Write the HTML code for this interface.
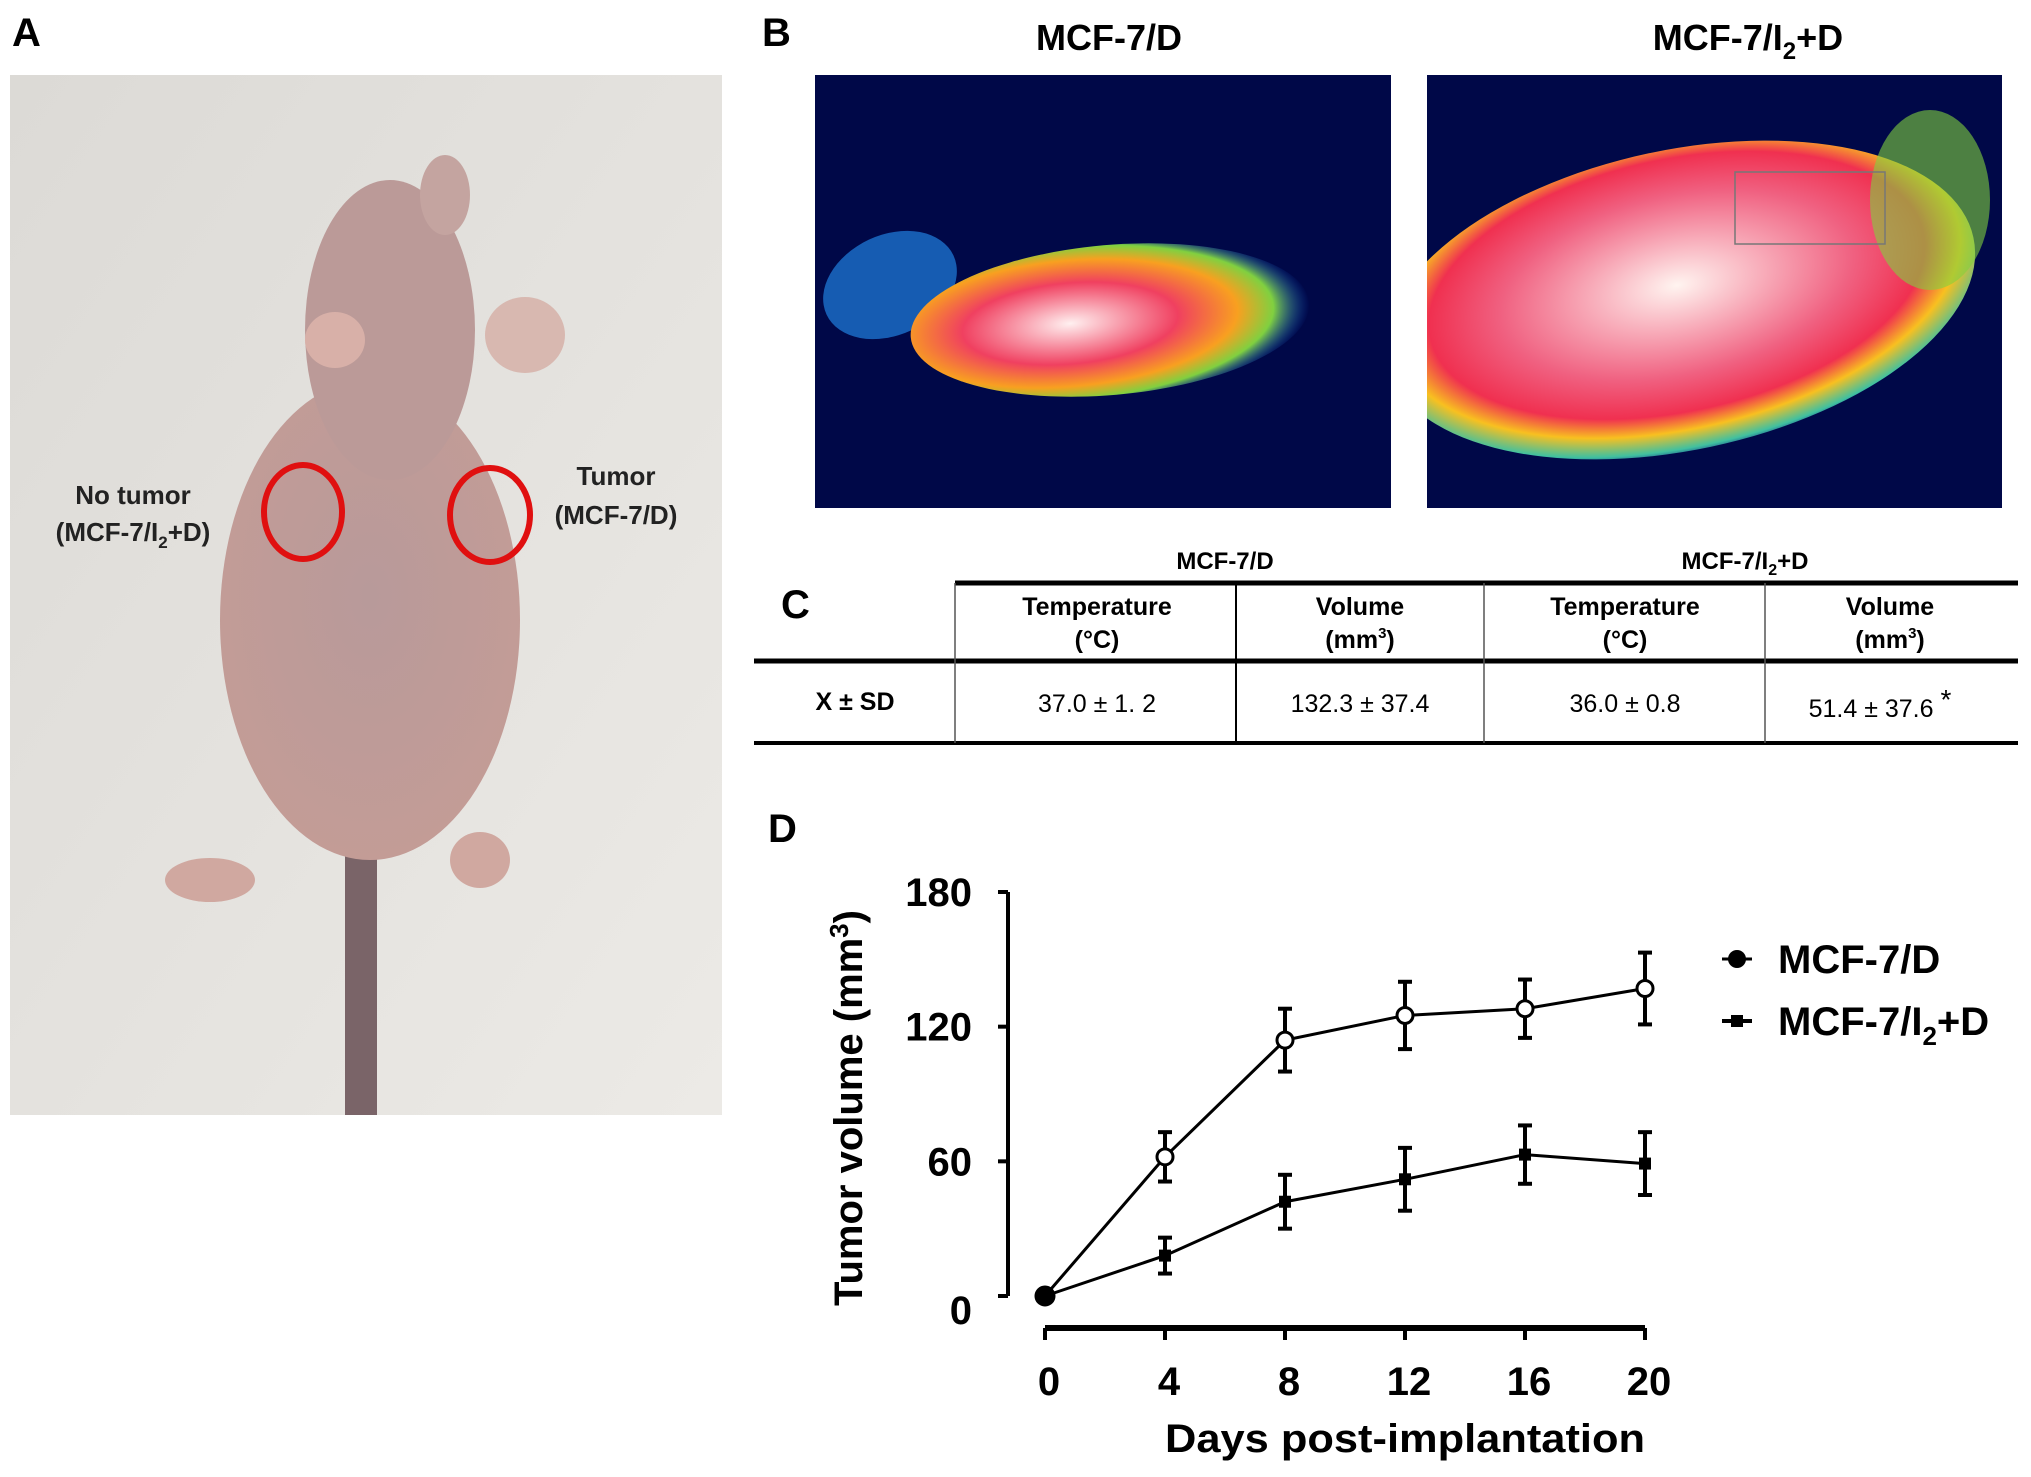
<!DOCTYPE html>
<html><head><meta charset="utf-8"><style>
body{margin:0;background:#fff;width:2031px;height:1472px;overflow:hidden;font-family:"Liberation Sans",Arial,sans-serif}
svg text{font-family:"Liberation Sans",Arial,sans-serif}
</style></head><body>
<svg width="2031" height="1472" viewBox="0 0 2031 1472">
<defs>
<linearGradient id="bg" x1="0" y1="0" x2="1" y2="1"><stop offset="0" stop-color="#dcdad6"/><stop offset="1" stop-color="#eceae6"/></linearGradient>
<radialGradient id="skin" cx="0.5" cy="0.45" r="0.6"><stop offset="0" stop-color="#b89a9a"/><stop offset="1" stop-color="#c49c96"/></radialGradient>
<radialGradient id="heat1" cx="0.4" cy="0.5" r="0.6"><stop offset="0" stop-color="#fff0f0"/><stop offset="0.45" stop-color="#f04060"/><stop offset="0.7" stop-color="#f8a020"/><stop offset="0.85" stop-color="#80d040"/><stop offset="1" stop-color="#1060e0" stop-opacity="0"/></radialGradient>
<radialGradient id="heat2" cx="0.5" cy="0.45" r="0.6"><stop offset="0" stop-color="#fff4f0"/><stop offset="0.5" stop-color="#f06080"/><stop offset="0.7" stop-color="#f03050"/><stop offset="0.8" stop-color="#f8c020"/><stop offset="0.9" stop-color="#40c0a0"/><stop offset="1" stop-color="#1040d0" stop-opacity="0"/></radialGradient>
<clipPath id="c1"><rect x="815" y="75" width="576" height="433"/></clipPath>
<clipPath id="c2"><rect x="1427" y="75" width="575" height="433"/></clipPath>
</defs>

<text x="12" y="46" font-size="40" font-weight="bold">A</text>
<g>
<rect x="10" y="75" width="712" height="1040" fill="url(#bg)"/>
<rect x="345" y="840" width="32" height="275" fill="#7a6468"/>
<ellipse cx="370" cy="620" rx="150" ry="240" fill="url(#skin)"/>
<ellipse cx="390" cy="330" rx="85" ry="150" fill="#bb9a98"/>
<ellipse cx="445" cy="195" rx="25" ry="40" fill="#c4a4a0"/>
<ellipse cx="335" cy="340" rx="30" ry="28" fill="#d8b0a8"/>
<ellipse cx="525" cy="335" rx="40" ry="38" fill="#d8b8b0"/>
<ellipse cx="210" cy="880" rx="45" ry="22" fill="#d0a8a0"/>
<ellipse cx="480" cy="860" rx="30" ry="28" fill="#d0a8a0"/>
<ellipse cx="303" cy="512" rx="39" ry="47" fill="none" stroke="#e01010" stroke-width="6"/>
<ellipse cx="490" cy="515" rx="40" ry="47" fill="none" stroke="#e01010" stroke-width="6"/>
<text x="133" y="504" font-size="26" font-weight="bold" text-anchor="middle" fill="#222">No tumor</text>
<text x="133" y="541" font-size="26" font-weight="bold" text-anchor="middle" fill="#222">(MCF-7/I<tspan font-size="17" dy="7">2</tspan><tspan dy="-7">+D)</tspan></text>
<text x="616" y="485" font-size="26" font-weight="bold" text-anchor="middle" fill="#222">Tumor</text>
<text x="616" y="524" font-size="26" font-weight="bold" text-anchor="middle" fill="#222">(MCF-7/D)</text>
</g>

<text x="762" y="46" font-size="40" font-weight="bold">B</text>
<text x="1109" y="50" font-size="36" font-weight="bold" text-anchor="middle">MCF-7/D</text>
<text x="1748" y="50" font-size="36" font-weight="bold" text-anchor="middle">MCF-7/I<tspan font-size="24" dy="9">2</tspan><tspan dy="-9">+D</tspan></text>
<g clip-path="url(#c1)">
<rect x="815" y="75" width="576" height="433" fill="#000848"/>
<ellipse cx="890" cy="285" rx="70" ry="50" fill="#2080e0" opacity="0.7" transform="rotate(-25 890 285)"/>
<ellipse cx="1110" cy="320" rx="200" ry="75" fill="url(#heat1)" transform="rotate(-5 1110 320)"/>
</g>
<g clip-path="url(#c2)">
<rect x="1427" y="75" width="575" height="433" fill="#000848"/>
<ellipse cx="1680" cy="300" rx="300" ry="150" fill="url(#heat2)" transform="rotate(-12 1680 300)"/>
<ellipse cx="1930" cy="200" rx="60" ry="90" fill="#80d040" opacity="0.6"/>
<rect x="1735" y="172" width="150" height="72" fill="none" stroke="#777" stroke-width="1.5"/>
</g>

<g>
<text x="781" y="618" font-size="40" font-weight="bold">C</text>
<text x="1225" y="569" font-size="24" font-weight="bold" text-anchor="middle">MCF-7/D</text>
<text x="1745" y="569" font-size="24" font-weight="bold" text-anchor="middle">MCF-7/I<tspan font-size="16" dy="6">2</tspan><tspan dy="-6">+D</tspan></text>
<line x1="955" y1="583" x2="2018" y2="583" stroke="#000" stroke-width="5"/>
<line x1="754" y1="661" x2="2018" y2="661" stroke="#000" stroke-width="5"/>
<line x1="754" y1="743" x2="2018" y2="743" stroke="#000" stroke-width="4"/>
<line x1="955" y1="583" x2="955" y2="743" stroke="#555" stroke-width="1.5"/>
<line x1="1236" y1="583" x2="1236" y2="743" stroke="#000" stroke-width="2"/>
<line x1="1484" y1="583" x2="1484" y2="743" stroke="#555" stroke-width="1.5"/>
<line x1="1765" y1="583" x2="1765" y2="743" stroke="#555" stroke-width="1.5"/>
<g font-size="25" font-weight="bold" text-anchor="middle">
<text x="1097" y="615">Temperature</text><text x="1097" y="648">(°C)</text>
<text x="1360" y="615">Volume</text><text x="1360" y="648">(mm<tspan font-size="15" dy="-10">3</tspan><tspan dy="10">)</tspan></text>
<text x="1625" y="615">Temperature</text><text x="1625" y="648">(°C)</text>
<text x="1890" y="615">Volume</text><text x="1890" y="648">(mm<tspan font-size="15" dy="-10">3</tspan><tspan dy="10">)</tspan></text>
<text x="855" y="710">X ± SD</text>
</g>
<g font-size="25" text-anchor="middle">
<text x="1097" y="712">37.0 ± 1. 2</text>
<text x="1360" y="712">132.3 ± 37.4</text>
<text x="1625" y="712">36.0 ± 0.8</text>
<text x="1880" y="717">51.4 ± 37.6 <tspan dy="-8" font-size="28">*</tspan></text>
</g>
</g>

<text x="768" y="842" font-size="40" font-weight="bold">D</text>
<g id="chart"></g>
</svg>
<script>
const days=[0,4,8,12,16,20];
const yTicks=[0,60,120,180];
const seriesD=[0,62,114,125,128,137];
const errD=[0,11,14,15,13,16];
const seriesI=[0,18,42,52,63,59];
const errI=[0,8,12,14,13,14];
const NS='http://www.w3.org/2000/svg';
const g=document.getElementById('chart');
const xS=v=>1045+(v/20)*600;
const yS=v=>1296-(v/180)*404;
function mk(t,a,p){const e=document.createElementNS(NS,t);for(const k in a)e.setAttribute(k,a[k]);(p||g).appendChild(e);return e;}
const ya=mk('line',{x1:1008,y1:yS(180),x2:1008,y2:yS(0),stroke:'#000','stroke-width':4});


yTicks.forEach(v=>{
  mk('line',{x1:998,y1:yS(v),x2:1008,y2:yS(v),stroke:'#000','stroke-width':4});
  const t=mk('text',{x:972,y:yS(v)+14+(v===0?14:0),'font-size':40,'font-weight':'bold','text-anchor':'end'});
  t.textContent=v;
  
  
});
const xa=mk('line',{x1:xS(0),y1:1328,x2:xS(20),y2:1328,stroke:'#000','stroke-width':6});


days.forEach(d=>{
  mk('line',{x1:xS(d),y1:1328,x2:xS(d),y2:1340,stroke:'#000','stroke-width':4});
  const t=mk('text',{x:xS(d)+4,y:1395,'font-size':40,'font-weight':'bold','text-anchor':'middle'});
  t.textContent=d;
  
  
});
const xt=mk('text',{x:1405,y:1452,'font-size':40,'font-weight':'bold','text-anchor':'middle',textLength:480,lengthAdjust:'spacingAndGlyphs'});
xt.textContent='Days post-implantation';


const yt=mk('text',{x:0,y:0,'font-size':40,'font-weight':'bold','text-anchor':'middle',transform:'translate(862,1108) rotate(-90)'});
yt.innerHTML='Tumor  volume (mm<tspan font-size="26" dy="-14">3</tspan><tspan dy="14">)</tspan>';


function series(vals,errs,name,marker){
  const pts=vals.map((v,i)=>xS(days[i])+','+yS(v)).join(' ');
  const l=mk('polyline',{points:pts,fill:'none',stroke:'#000','stroke-width':3});
  
  
  vals.forEach((v,i)=>{
    const x=xS(days[i]);
    if(errs[i]>0){
      mk('line',{x1:x,y1:yS(v+errs[i]),x2:x,y2:yS(v-errs[i]),stroke:'#000','stroke-width':4});
      mk('line',{x1:x-7,y1:yS(v+errs[i]),x2:x+7,y2:yS(v+errs[i]),stroke:'#000','stroke-width':4});
      mk('line',{x1:x-7,y1:yS(v-errs[i]),x2:x+7,y2:yS(v-errs[i]),stroke:'#000','stroke-width':4});
    }
    let m;
    if(marker==='circle') m=mk('circle',{cx:x,cy:yS(v),r:i===0?9:8,fill:i===0?'#000':'#fff',stroke:'#000','stroke-width':3});
    else m=mk('rect',{x:x-6,y:yS(v)-6,width:12,height:12,fill:'#000'});
    
    
  });
}
series(seriesI,errI,'mcf7-i2d','square');
series(seriesD,errD,'mcf7-d','circle');
const l1=mk('g',{});


mk('line',{x1:1722,y1:959,x2:1752,y2:959,stroke:'#000','stroke-width':3},l1);
mk('circle',{cx:1737,cy:959,r:9,fill:'#000'},l1);
const lt1=mk('text',{x:1778,y:973,'font-size':40,'font-weight':'bold'},l1);lt1.textContent='MCF-7/D';
const l2=mk('g',{});


mk('line',{x1:1722,y1:1021,x2:1752,y2:1021,stroke:'#000','stroke-width':4},l2);
mk('rect',{x:1731,y:1015,width:12,height:12,fill:'#000'},l2);
const lt2=mk('text',{x:1778,y:1035,'font-size':40,'font-weight':'bold'},l2);lt2.innerHTML='MCF-7/I<tspan font-size="26" dy="10">2</tspan><tspan dy="-10">+D</tspan>';
</script>
</body></html>
